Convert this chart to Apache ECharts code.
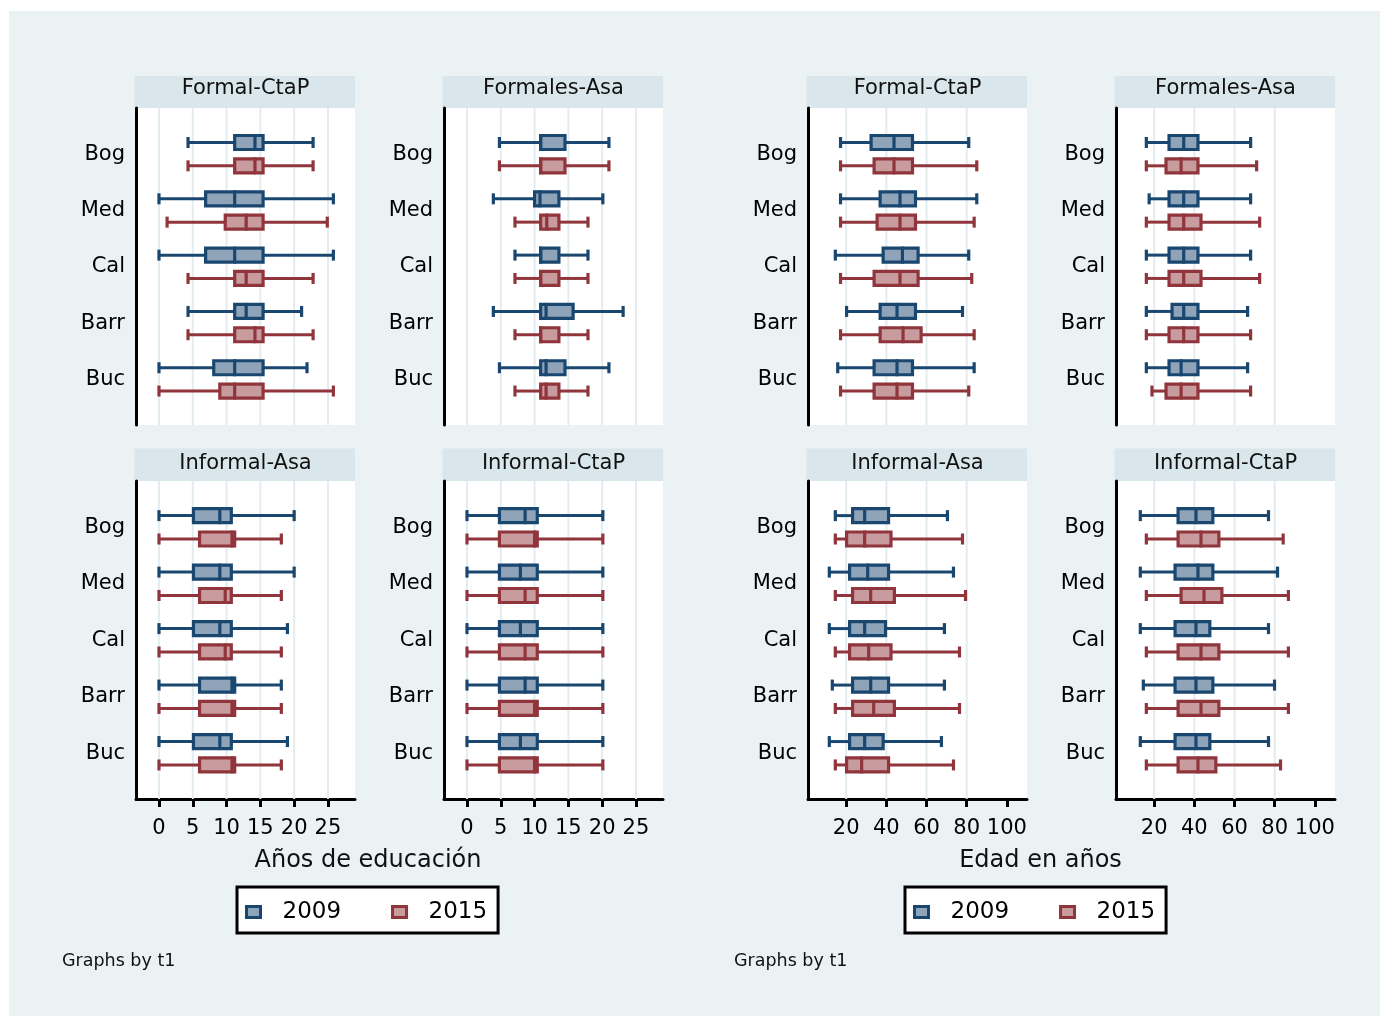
<!DOCTYPE html>
<html>
<head>
<meta charset="utf-8">
<script src="https://cdn.jsdelivr.net/npm/echarts@6.0.0/dist/echarts.min.js"></script>
<style>
  html, body { margin: 0; padding: 0; background: #ffffff; }
  #chart { width: 1380px; height: 1016px; }
</style>
</head>
<body>
<div id="chart"></div>
<script>
// ---- data -------------------------------------------------------------
const categories = ['Bog', 'Med', 'Cal', 'Barr', 'Buc'];
const years = ['2009', '2015'];
const panelTitles = ['Formal-CtaP', 'Formales-Asa', 'Informal-Asa', 'Informal-CtaP'];
const eduTicks = [0, 5, 10, 15, 20, 25];
const ageTicks = [20, 40, 60, 80, 100];
const ageGridTicks = [20, 40, 60, 80];

// each row: [lower whisker, Q1, median, Q3, upper whisker], one row per city
// years of schooling
const eduFormalCtaP2009 = [[4.3, 11.2, 14.2, 15.4, 22.8], [0, 6.9, 11.2, 15.4, 25.8], [0, 6.9, 11.2, 15.4, 25.8], [4.3, 11.2, 12.9, 15.4, 21.1], [0, 8.1, 11.2, 15.4, 21.9]];
const eduFormalCtaP2015 = [[4.3, 11.2, 14.2, 15.4, 22.8], [1.2, 9.8, 12.9, 15.4, 24.9], [4.3, 11.2, 12.9, 15.4, 22.8], [4.3, 11.2, 14.2, 15.4, 22.8], [0, 9.0, 11.2, 15.4, 25.8]];
const eduFormalesAsa2009 = [[4.8, 10.9, 10.9, 14.5, 21.0], [3.9, 10.0, 10.8, 13.6, 20.1], [7.1, 10.9, 10.9, 13.6, 17.9], [3.9, 10.9, 11.7, 15.7, 23.1], [4.8, 10.9, 11.7, 14.5, 21.0]];
const eduFormalesAsa2015 = [[4.8, 10.9, 10.9, 14.5, 21.0], [7.1, 10.9, 11.8, 13.6, 17.9], [7.1, 10.9, 10.9, 13.6, 17.9], [7.1, 10.9, 10.9, 13.6, 17.9], [7.1, 10.9, 11.7, 13.6, 17.9]];
const eduInformalAsa2009 = [[0, 5.1, 9.0, 10.7, 20.0], [0, 5.1, 9.0, 10.7, 20.0], [0, 5.1, 9.0, 10.7, 19.0], [0, 6.0, 10.8, 11.2, 18.1], [0, 5.1, 9.0, 10.7, 19.0]];
const eduInformalAsa2015 = [[0, 6.0, 10.8, 11.2, 18.1], [0, 6.0, 9.8, 10.7, 18.1], [0, 6.0, 9.8, 10.7, 18.1], [0, 6.0, 10.8, 11.2, 18.1], [0, 6.0, 10.8, 11.2, 18.1]];
const eduInformalCtaP2009 = [[0, 4.8, 8.6, 10.4, 20.1], [0, 4.8, 7.9, 10.4, 20.1], [0, 4.8, 7.9, 10.4, 20.1], [0, 4.8, 8.6, 10.4, 20.1], [0, 4.8, 7.9, 10.4, 20.1]];
const eduInformalCtaP2015 = [[0, 4.8, 10.0, 10.4, 20.1], [0, 4.8, 8.6, 10.4, 20.1], [0, 4.8, 8.6, 10.4, 20.1], [0, 4.8, 10.0, 10.4, 20.1], [0, 4.8, 10.0, 10.4, 20.1]];
// age in years
const ageFormalCtaP2009 = [[17.2, 32.4, 43.8, 53.0, 81.0], [17.2, 36.9, 46.8, 54.5, 85.0], [14.6, 38.4, 48.0, 55.8, 81.0], [20.2, 36.9, 45.3, 54.5, 77.9], [15.8, 33.9, 45.3, 53.0, 83.7]];
const ageFormalCtaP2015 = [[17.2, 33.9, 43.8, 53.0, 85.0], [17.2, 35.4, 46.8, 54.5, 83.7], [17.2, 33.9, 46.8, 55.8, 82.5], [17.2, 36.9, 48.3, 57.3, 83.7], [17.2, 33.9, 45.3, 53.0, 81.0]];
const ageFormalesAsa2009 = [[16.1, 27.4, 34.7, 41.8, 68.0], [17.5, 27.4, 34.7, 41.8, 68.0], [16.1, 27.4, 34.7, 41.8, 68.0], [16.1, 28.9, 34.7, 41.8, 66.5], [16.1, 27.4, 33.4, 41.8, 66.5]];
const ageFormalesAsa2015 = [[16.1, 25.9, 33.4, 41.8, 71.0], [16.1, 27.4, 34.7, 43.3, 72.5], [16.1, 27.4, 34.7, 43.3, 72.5], [16.1, 27.4, 34.7, 41.8, 68.0], [18.9, 25.9, 33.4, 41.8, 68.0]];
const ageInformalAsa2009 = [[14.6, 23.2, 29.2, 41.1, 70.4], [11.6, 21.7, 30.7, 41.1, 73.4], [11.6, 21.7, 29.2, 39.6, 68.9], [13.1, 23.2, 32.2, 41.1, 68.9], [11.6, 21.7, 29.2, 38.4, 67.4]];
const ageInformalAsa2015 = [[14.6, 20.2, 29.2, 42.3, 77.9], [14.6, 23.2, 32.2, 44.0, 79.4], [14.6, 21.7, 31.2, 42.3, 76.4], [14.6, 23.2, 33.7, 44.0, 76.4], [14.6, 20.2, 27.7, 41.1, 73.4]];
const ageInformalCtaP2009 = [[13.1, 31.9, 40.8, 49.2, 76.9], [13.1, 30.4, 41.8, 49.2, 81.4], [13.1, 30.4, 40.8, 47.7, 76.9], [14.6, 30.4, 40.8, 49.2, 79.9], [13.1, 30.4, 40.8, 47.7, 76.9]];
const ageInformalCtaP2015 = [[16.1, 31.9, 43.3, 52.2, 84.2], [16.1, 33.4, 44.8, 53.7, 86.8], [16.1, 31.9, 43.3, 52.2, 86.8], [16.1, 31.9, 43.3, 52.2, 86.8], [16.1, 31.9, 41.8, 50.7, 82.9]];

// ---- styling & layout ---------------------------------------------------
const FONT = 'DejaVu Sans';
const BG = '#eaf2f3';
const STRIP = '#d9e6eb';
const GRIDLINE = '#e3ecef';
const YEAR_STYLE = [
  { stroke: '#1a476f', fill: '#8fa4b9' },
  { stroke: '#90353b', fill: '#c89b9e' }
];
const YEAR_OFFSET = [-0.207, 0.207];   // position of each year inside a city band
const BOX_H = 14, CAP_H = 11, WHISKER_W = 3, EDGE_W = 3.2;
const PLOT_W = 219;
const COL_LEFT = [136, 444, 808, 1116];
const ROW_TOP = [108, 481];
const ROW_H = [317, 318];
const STRIP_H = 32;
const Y_MIN = -0.82, Y_MAX = 4.81;
const AXIS = {
  edu: { min: -3.4, max: 29, ticks: eduTicks, grid: eduTicks },
  age: { min: 1, max: 110, ticks: ageTicks, grid: ageGridTicks }
};

const panels = [
  { title: panelTitles[0], col: 0, row: 0, kind: 'edu', data: [eduFormalCtaP2009, eduFormalCtaP2015] },
  { title: panelTitles[1], col: 1, row: 0, kind: 'edu', data: [eduFormalesAsa2009, eduFormalesAsa2015] },
  { title: panelTitles[2], col: 0, row: 1, kind: 'edu', data: [eduInformalAsa2009, eduInformalAsa2015] },
  { title: panelTitles[3], col: 1, row: 1, kind: 'edu', data: [eduInformalCtaP2009, eduInformalCtaP2015] },
  { title: panelTitles[0], col: 2, row: 0, kind: 'age', data: [ageFormalCtaP2009, ageFormalCtaP2015] },
  { title: panelTitles[1], col: 3, row: 0, kind: 'age', data: [ageFormalesAsa2009, ageFormalesAsa2015] },
  { title: panelTitles[2], col: 2, row: 1, kind: 'age', data: [ageInformalAsa2009, ageInformalAsa2015] },
  { title: panelTitles[3], col: 3, row: 1, kind: 'age', data: [ageInformalCtaP2009, ageInformalCtaP2015] }
];

// horizontal box: whiskers with end caps, filled IQR box, median bar
function boxRenderer(offset, col) {
  return function (params, api) {
    const yv = api.value(0) + offset;
    const px = k => api.coord([api.value(k), yv])[0];
    const y = api.coord([api.value(1), yv])[1];
    const xWl = px(1), xQ1 = px(2), xMed = px(3), xQ3 = px(4), xWh = px(5);
    const line = (x1, y1, x2, y2, w) => ({
      type: 'line', shape: { x1, y1, x2, y2 },
      style: { stroke: col.stroke, lineWidth: w }
    });
    return {
      type: 'group',
      children: [
        line(xWl, y, xQ1, y, WHISKER_W),
        line(xQ3, y, xWh, y, WHISKER_W),
        line(xWl, y - CAP_H / 2, xWl, y + CAP_H / 2, EDGE_W),
        line(xWh, y - CAP_H / 2, xWh, y + CAP_H / 2, EDGE_W),
        {
          type: 'rect',
          shape: { x: xQ1, y: y - BOX_H / 2, width: xQ3 - xQ1, height: BOX_H },
          style: { fill: col.fill, stroke: col.stroke, lineWidth: EDGE_W }
        },
        line(xMed, y - BOX_H / 2 - 1.5, xMed, y + BOX_H / 2 + 1.5, EDGE_W)
      ]
    };
  };
}

// vertical reference lines at the tick values
function gridlineRenderer(params, api) {
  const x = api.coord([api.value(0), 0])[0];
  const cs = params.coordSys;
  return {
    type: 'line',
    shape: { x1: x, y1: cs.y, x2: x, y2: cs.y + cs.height },
    style: { stroke: GRIDLINE, lineWidth: 2 }
  };
}

const grids = [], xAxes = [], yAxes = [], series = [], graphics = [];

// page margin
graphics.push({ type: 'rect', left: 0, top: 0, shape: { width: 1380, height: 11 }, style: { fill: '#ffffff' }, silent: true });
graphics.push({ type: 'rect', left: 0, top: 0, shape: { width: 9, height: 1016 }, style: { fill: '#ffffff' }, silent: true });

panels.forEach((p, i) => {
  const left = COL_LEFT[p.col];
  const top = ROW_TOP[p.row];
  const bottomRow = p.row === 1;
  const ax = AXIS[p.kind];

  grids.push({
    left: left, top: top, width: PLOT_W, height: ROW_H[p.row],
    show: true, backgroundColor: '#ffffff', borderWidth: 0, containLabel: false
  });

  xAxes.push({
    type: 'value', gridIndex: i, min: ax.min, max: ax.max,
    axisLine: { show: bottomRow, onZero: false, lineStyle: { color: '#000', width: 3 } },
    axisTick: { show: bottomRow, length: 8, customValues: ax.ticks, lineStyle: { color: '#000', width: 3 } },
    axisLabel: {
      show: bottomRow, customValues: ax.ticks, margin: 19,
      fontFamily: FONT, fontSize: 21, color: '#000'
    },
    splitLine: { show: false }
  });

  yAxes.push({
    type: 'value', gridIndex: i, inverse: true, min: Y_MIN, max: Y_MAX,
    axisLine: { show: true, onZero: false, lineStyle: { color: '#000', width: 3 } },
    axisTick: { show: false },
    splitLine: { show: false },
    axisLabel: {
      customValues: categories.map((c, k) => k),
      formatter: v => categories[v] || '',
      margin: 11, fontFamily: FONT, fontSize: 21, color: '#000'
    }
  });

  series.push({
    type: 'custom', name: 'grid-' + i, xAxisIndex: i, yAxisIndex: i,
    silent: true, z: 1, encode: { x: 0, y: 1 },
    data: ax.grid.map(v => [v, 0]),
    renderItem: gridlineRenderer
  });

  years.forEach((yr, k) => {
    series.push({
      type: 'custom', name: yr, xAxisIndex: i, yAxisIndex: i, z: 2,
      itemStyle: { color: YEAR_STYLE[k].fill, borderColor: YEAR_STYLE[k].stroke, borderWidth: 3 },
      encode: { x: [1, 2, 3, 4, 5], y: 0 },
      data: p.data[k].map((r, c) => [c].concat(r)),
      renderItem: boxRenderer(YEAR_OFFSET[k], YEAR_STYLE[k])
    });
  });

  // panel header strip
  graphics.push({
    type: 'rect', left: left - 1.5, top: top - STRIP_H - (bottomRow ? 0.5 : 0),
    shape: { width: PLOT_W + 1.5, height: STRIP_H + (bottomRow ? 0.5 : 0) },
    style: { fill: STRIP }, silent: true
  });
  graphics.push({
    type: 'text', x: left + PLOT_W / 2, y: top - (bottomRow ? 17.5 : 19.5),
    style: {
      text: p.title, fontFamily: FONT, fontSize: 21, fill: '#111',
      textAlign: 'center', textVerticalAlign: 'middle'
    },
    silent: true
  });
});

// shared axis titles and notes
[
  { text: 'Años de educación', x: 368, y: 860.5, size: 24, align: 'center' },
  { text: 'Edad en años', x: 1040.5, y: 860.5, size: 24, align: 'center' },
  { text: 'Graphs by t1', x: 62, y: 961, size: 17.5, align: 'left' },
  { text: 'Graphs by t1', x: 734, y: 961, size: 17.5, align: 'left' }
].forEach(t => {
  graphics.push({
    type: 'text', x: t.x, y: t.y, silent: true,
    style: {
      text: t.text, fontFamily: FONT, fontSize: t.size, fill: '#111',
      textAlign: t.align, textVerticalAlign: 'middle'
    }
  });
});

const legendData = years.map((yr, k) => ({
  name: yr,
  itemStyle: { color: YEAR_STYLE[k].fill, borderColor: YEAR_STYLE[k].stroke, borderWidth: 3 }
}));
const legendBase = {
  orient: 'horizontal', top: 887, data: legendData, icon: 'rect',
  itemWidth: 14, itemHeight: 11, itemGap: 50, selectedMode: false,
  backgroundColor: '#ffffff', borderColor: '#000', borderWidth: 3, borderRadius: 0,
  padding: [12, 11, 8, 8],
  textStyle: { fontFamily: FONT, fontSize: 23, lineHeight: 26, color: '#000', padding: [0, 0, 0, 17] }
};

const chart = echarts.init(document.getElementById('chart'), null, { renderer: 'canvas' });
chart.setOption({
  backgroundColor: BG,
  animation: false,
  grid: grids,
  xAxis: xAxes,
  yAxis: yAxes,
  legend: [
    Object.assign({}, legendBase, { left: 237 }),
    Object.assign({}, legendBase, { left: 905 })
  ],
  series: series,
  graphic: { elements: graphics }
});
</script>
</body>
</html>
